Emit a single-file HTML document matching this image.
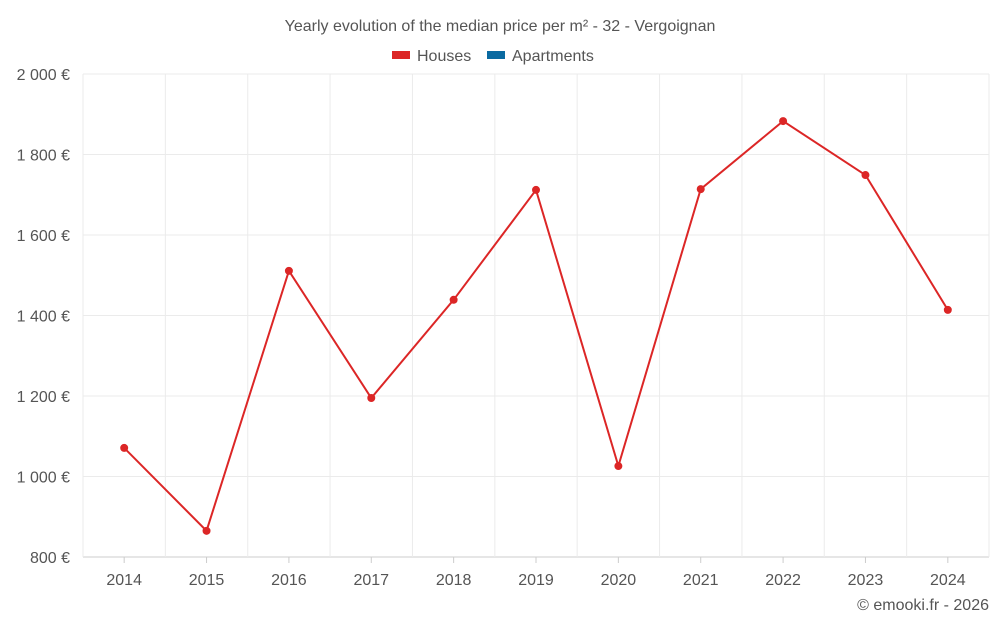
<!DOCTYPE html>
<html><head><meta charset="utf-8"><style>
body{margin:0;background:#fff;font-family:"Liberation Sans",Roboto,sans-serif;}
svg text{font-family:"Liberation Sans",sans-serif;fill:#555;}
</style></head><body>
<svg id="chart" width="1000" height="625">
<text x="500" y="31" text-anchor="middle" font-size="16">Yearly evolution of the median price per m² - 32 - Vergoignan</text>
<g>
<g><rect x="392" y="51" width="18" height="8" fill="#dc2626"/><text x="417" y="61" font-size="16">Houses</text></g>
<g><rect x="487" y="51" width="18" height="8" fill="#0a6aa1"/><text x="512" y="61" font-size="16">Apartments</text></g>
</g>
<g id="grid"></g><g id="axes"></g><g id="series"></g>
<text x="989" y="610" text-anchor="end" font-size="16">© emooki.fr - 2026</text>
</svg>
<script>
const categories=["2014","2015","2016","2017","2018","2019","2020","2021","2022","2023","2024"];
const housesValues=[1071,865,1511,1195,1439,1712,1026,1714,1883,1749,1414];
const yTicks=[800,1000,1200,1400,1600,1800,2000];
const yTickLabels=["800 €","1 000 €","1 200 €","1 400 €","1 600 €","1 800 €","2 000 €"];
const L=83,R=989,T=74,B=557,ymin=800,ymax=2000;
const NS="http://www.w3.org/2000/svg";
const step=(R-L)/categories.length;
const x=i=>L+step*(i+0.5);
const y=v=>B-(v-ymin)/(ymax-ymin)*(B-T);
function mk(t,a,p){const e=document.createElementNS(NS,t);for(const k in a)e.setAttribute(k,a[k]);p.appendChild(e);return e;}
const grid=document.getElementById('grid'),axes=document.getElementById('axes'),ser=document.getElementById('series');
yTicks.forEach((v,i)=>{
 const g=mk('line',{x1:L,x2:R,y1:y(v),y2:y(v),stroke:i===0?'#ccc':'#ebebeb'},grid);
 
 
 const t=mk('text',{x:70,y:y(v)+6,'text-anchor':'end','font-size':16},axes);t.textContent=yTickLabels[i];
 
 
});
for(let i=0;i<=categories.length;i++){
 const g=mk('line',{x1:L+step*i,x2:L+step*i,y1:T,y2:B,stroke:'#ebebeb'},grid);
 
 
}
categories.forEach((c,i)=>{
 const t=mk('text',{x:x(i),y:585,'text-anchor':'middle','font-size':16},axes);t.textContent=c;
 
 
 const tk=mk('line',{x1:x(i),x2:x(i),y1:B,y2:B+6,stroke:'#ccc'},axes);
 
 
});
const line=mk('polyline',{points:housesValues.map((v,i)=>x(i)+','+y(v)).join(' '),fill:'none',stroke:'#dc2626','stroke-width':2},ser);


housesValues.forEach((v,i)=>{
 const c=mk('circle',{cx:x(i),cy:y(v),r:4,fill:'#dc2626'},ser);
 
 
});
</script>
</body></html>
